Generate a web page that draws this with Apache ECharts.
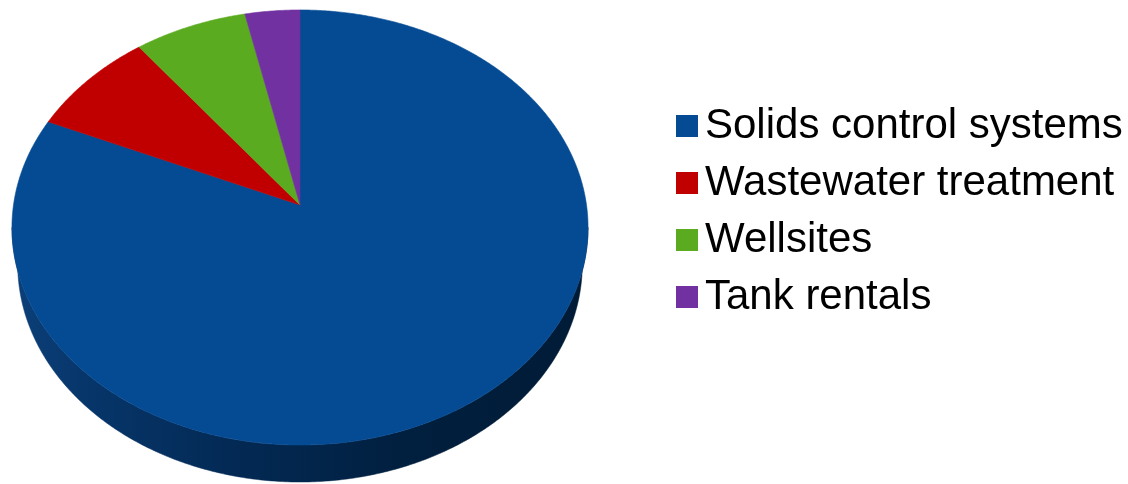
<!DOCTYPE html>
<html>
<head>
<meta charset="utf-8">
<script src="https://cdn.jsdelivr.net/npm/echarts@6/dist/echarts.min.js"></script>
<style>
html,body{margin:0;padding:0;background:#fff;}
#chart{width:1128px;height:484px;}
</style>
</head>
<body>
<div id="chart"></div>
<script>
// ---- data ----
const categories = ['Solids control systems', 'Wastewater treatment', 'Wellsites', 'Tank rentals'];
const values = [81.6, 8.0, 7.0, 3.4];

// ---- styles ----
const colors = ['#054b93', '#c00000', '#5aab1f', '#7131a0'];
const sideColors = ['#03284f', '#6a0000', '#2f5e10', '#3d1a58'];

// ---- layout (pseudo-3D projection) ----
const CX = 300, CY = 205;   // projected pie centre
const A = 286.5, B = 215.2; // radii
const K = 0.1034;           // perspective factor
const DEPTH = 37;           // thickness of the disc
const SHRINK = 0.98;        // bottom rim horizontal scale

const total = values.reduce((s, v) => s + v, 0);
const starts = [];
values.reduce((acc, v, i) => { starts[i] = acc; return acc + v; }, 0);

function proj(theta, dy, sx) {
  const u = Math.sin(theta), v = -Math.cos(theta);
  const w = 1 - K * v;
  return [CX + A * sx * u / w, CY + B * v / w + dy];
}
function arc(a0, a1, dy, sx) {
  const pts = [];
  const n = Math.max(2, Math.ceil(Math.abs(a1 - a0) / (Math.PI / 360)));
  for (let j = 0; j <= n; j++) pts.push(proj(a0 + (a1 - a0) * j / n, dy, sx));
  return pts;
}
const FRONT0 = Math.acos(-K), FRONT1 = 2 * Math.PI - Math.acos(-K);

function makeRender(i) {
  return function (params, api) {
    const val = api.value(0);
    const a0 = starts[i] / total * 2 * Math.PI;
    const a1 = a0 + val / total * 2 * Math.PI;
    const children = [];
    // side (front rim)
    const s = Math.max(a0, FRONT0), e = Math.min(a1, FRONT1);
    if (e > s) {
      const top = arc(s, e, 0, 1);
      const bot = arc(e, s, DEPTH, SHRINK);
      let fill = sideColors[i];
      if (i === 0) {
        fill = new echarts.graphic.LinearGradient(12, 0, 588, 0, [
          { offset: 0, color: '#0c4079' },
          { offset: 0.12, color: '#07366b' },
          { offset: 0.4, color: '#032953' },
          { offset: 0.7, color: '#011f3e' },
          { offset: 1, color: '#001b36' }
        ], true);
      }
      children.push({
        type: 'polygon',
        shape: { points: top.concat(bot) },
        style: { fill: fill, stroke: fill, lineWidth: 0.5 }
      });
    }
    // top face
    const pts = [[CX, CY]].concat(arc(a0, a1, 0, 1));
    children.push({
      type: 'polygon',
      shape: { points: pts },
      style: { fill: colors[i], stroke: colors[i], lineWidth: 0.6 }
    });
    return { type: 'group', children: children };
  };
}

const series = categories.map((name, i) => ({
  type: 'custom',
  name: name,
  coordinateSystem: 'none',
  renderItem: makeRender(i),
  itemStyle: { color: colors[i] },
  data: [[values[i]]],
  animation: false,
  silent: true
}));

const chart = echarts.init(document.getElementById('chart'), null, { renderer: 'canvas' });
chart.setOption({
  backgroundColor: '#ffffff',
  animation: false,
  legend: {
    orient: 'vertical',
    left: 671,
    top: 100,
    data: categories,
    icon: 'rect',
    itemWidth: 22,
    itemHeight: 22,
    itemGap: 15,
    selectedMode: false,
    textStyle: {
      fontFamily: 'Liberation Sans, Arial, sans-serif',
      fontSize: 42,
      lineHeight: 42,
      color: '#000000',
      padding: [0, 0, 0, 2]
    }
  },
  series: series
});
</script>
</body>
</html>
